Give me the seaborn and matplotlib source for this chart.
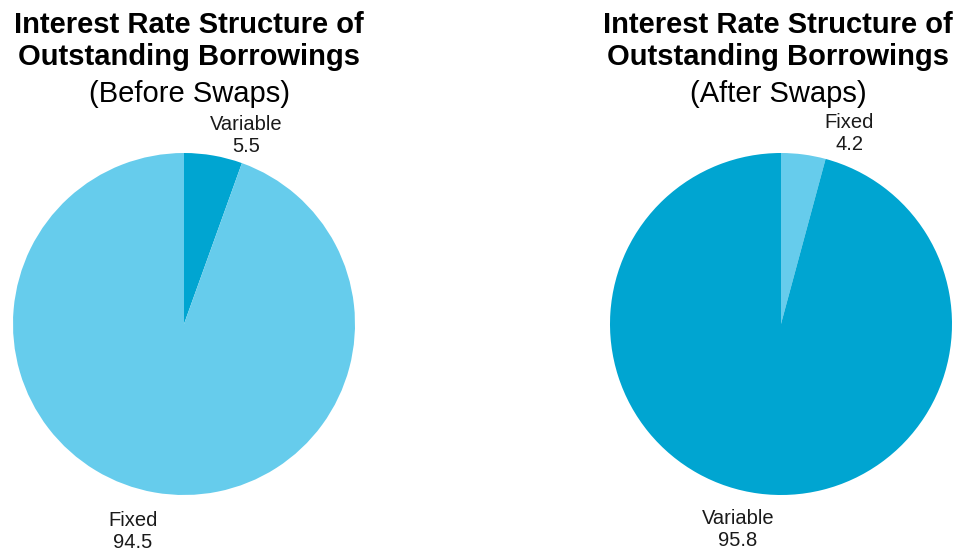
import matplotlib
matplotlib.use("Agg")
import matplotlib.pyplot as plt
import seaborn as sns

sns.set_theme(style="white")
plt.rcParams["font.family"] = ["Liberation Sans", "DejaVu Sans"]

# Borrowings split by interest-rate type, before and after swaps (%)
before_labels = ["Variable", "Fixed"]
before_values = [5.5, 94.5]
after_labels = ["Fixed", "Variable"]
after_values = [4.2, 95.8]

titles = ["Interest Rate Structure of\nOutstanding Borrowings"] * 2
subtitles = ["(Before Swaps)", "(After Swaps)"]

DARK = "#00A5D1"
LIGHT = "#66CCEC"
palette = sns.color_palette([DARK, LIGHT])
colors_before = [palette[0], palette[1]]
colors_after = [palette[1], palette[0]]

W, H = 963, 553
fig = plt.figure(figsize=(W / 100, H / 100), dpi=100)
ax = fig.add_axes([0, 0, 1, 1])

panels = [
    dict(labels=before_labels, values=before_values, colors=colors_before,
         center=(184, H - 324), title_x=189,
         label_pos=[(246, 136), (133, 531)]),
    dict(labels=after_labels, values=after_values, colors=colors_after,
         center=(781, H - 324), title_x=778,
         label_pos=[(849, 134), (738, 529)]),
]

for p, title, sub in zip(panels, titles, subtitles):
    ax.pie(p["values"], colors=p["colors"], startangle=90, counterclock=False,
           center=p["center"], radius=171, frame=True,
           wedgeprops=dict(linewidth=0))
    for lab, val, (lx, ly) in zip(p["labels"], p["values"], p["label_pos"]):
        ax.text(lx, H - ly, f"{lab}\n{val:.1f}", ha="center", va="center",
                fontsize=14.5, color="#1a1a1a", linespacing=1.2)
    ax.text(p["title_x"], H - 41, title, ha="center", va="center",
            fontsize=21, fontweight="bold", color="black", linespacing=1.2)
    ax.text(p["title_x"], H - 94, sub, ha="center", va="center",
            fontsize=21, color="black")

ax.set_xlim(0, W)
ax.set_ylim(0, H)
ax.set_aspect("equal")
ax.axis("off")

fig.savefig("out.png", dpi=100, facecolor="white")
